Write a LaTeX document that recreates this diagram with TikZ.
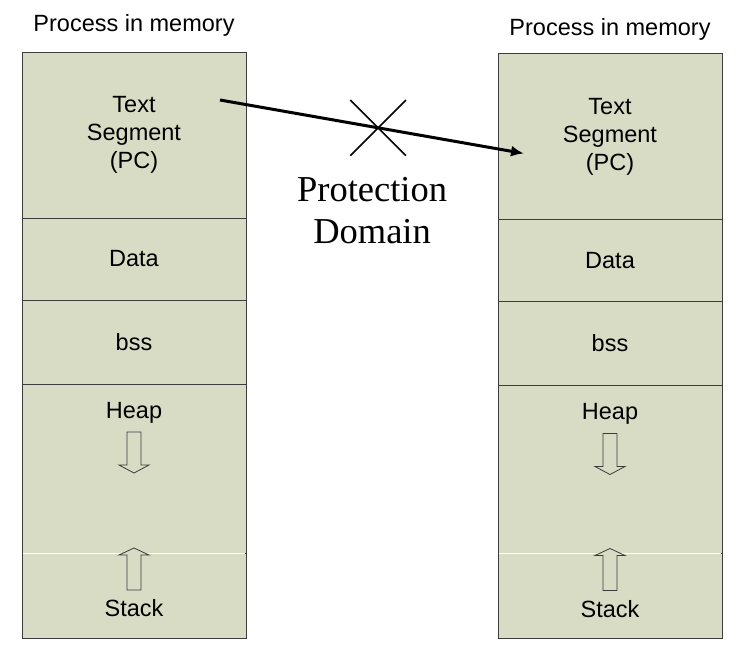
\documentclass[tikz,border=0pt]{standalone}
\usepackage{fontspec}
\setmainfont{Liberation Sans}
\newfontfamily\domfont{Liberation Serif}
\usetikzlibrary{positioning,arrows.meta,calc,shapes.misc}
\definecolor{segfill}{RGB}{216,220,196}
\definecolor{segline}{RGB}{60,60,60}

\begin{document}
\begin{tikzpicture}[x=1pt, y=-1pt,
  seg/.style={draw=segline, line width=0.9pt, fill=segfill, minimum width=224pt, inner sep=0pt, outer sep=0pt, font=\fontsize{23.5}{28}\selectfont, align=center},
  title/.style={inner sep=0pt, font=\fontsize{23.5}{28}\selectfont},
  dom/.style={inner sep=0pt, align=center, font=\domfont\fontsize{36.5}{42}\selectfont},
  hollow/.style={draw=segline, line width=0.8pt, fill=segfill},
  arr/.style={-{Latex[length=13pt, width=11pt]}, line width=3pt},
  blocked/.style={cross out, draw, line width=1.6pt, minimum size=54pt, inner sep=0pt}
]
\useasboundingbox (0,0) rectangle (750,661);

% left process
\node[seg, minimum height=166pt, anchor=north west] (txtL) at (22,52) {Text\\Segment\\(PC)};
\node[seg, minimum height=82pt, below=0pt of txtL] (dataL) {Data};
\node[seg, minimum height=84pt, below=0pt of dataL] (bssL) {bss};
\node[seg, minimum height=169pt, below=0pt of bssL] (heapL) {};
\node[seg, minimum height=85pt, below=0pt of heapL] (stackL) {};
\draw[white, line width=0.8pt] ($(heapL.south west)+(0.6,0)$) -- ($(heapL.south east)+(-0.6,0)$);
\node[title, below=18pt of heapL.north] (heapTL) {Heap};
\node[title, above=21pt of stackL.south] (stackTL) {Stack};
\node[title, above=15pt of txtL.north] (procL) {Process in memory};

% right process
\node[seg, minimum height=166pt, right=252pt of txtL, yshift=-1.5pt] (txtR) {Text\\Segment\\(PC)};
\node[seg, minimum height=82pt, below=0pt of txtR] (dataR) {Data};
\node[seg, minimum height=84pt, below=0pt of dataR] (bssR) {bss};
\node[seg, minimum height=168pt, below=0pt of bssR] (heapR) {};
\node[seg, minimum height=85pt, below=0pt of heapR] (stackR) {};
\draw[white, line width=0.8pt] ($(heapR.south west)+(0.6,0)$) -- ($(heapR.south east)+(-0.6,0)$);
\node[title, below=18pt of heapR.north] (heapTR) {Heap};
\node[title, above=21pt of stackR.south] (stackTR) {Stack};
\node[title, above=13pt of txtR.north] (procR) {Process in memory};

% growth arrows
\foreach \col in {L,R} {
  \coordinate (hd\col) at ($(heap\col.north)+(0,48)$);
  \coordinate (st\col) at ($(stack\col.south)+(0,-48)$);
  \draw[hollow] (hd\col) ++(-7,0) -- ++(0,33) -- ++(-8,0) -- ++(15,8) -- ++(15,-8) -- ++(-8,0) -- ++(0,-33) -- cycle;
  \draw[hollow] (st\col) ++(-7,0) -- ++(0,-35) -- ++(-8,0) -- ++(15,-7) -- ++(15,7) -- ++(-8,0) -- ++(0,35) -- cycle;
}

% jump across domains
\coordinate (pcL) at ($(txtL.north east)+(-26,48)$);
\coordinate (pcR) at ($(txtR.north west)+(26,100)$);
\draw[arr] (pcL) -- (pcR);
\node[blocked] (blk) at ($(pcL)!0.52!(pcR)$) {};
\node[dom, below=22pt of blk, xshift=-6pt] (domain) {Protection\\Domain};
\end{tikzpicture}
\end{document}
